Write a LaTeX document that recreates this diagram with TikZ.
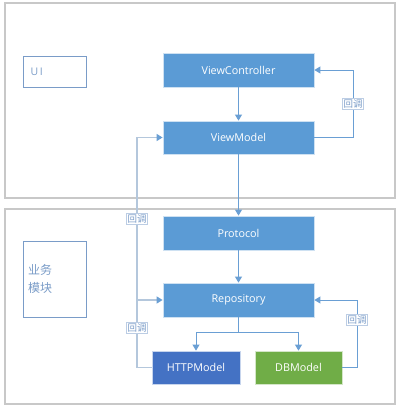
\documentclass[tikz,border=0pt]{standalone}
\usepackage{fontspec}
\setmainfont{Open Sans}
\newfontfamily\cjk{Noto Sans CJK SC}
\usetikzlibrary{arrows.meta}
\definecolor{boxblue}{HTML}{5B9BD5}
\definecolor{httpblue}{HTML}{4472C4}
\definecolor{dbgreen}{HTML}{70AD47}
\definecolor{frame}{HTML}{C8C8C8}
\definecolor{lineblue}{HTML}{6A9FD4}
\definecolor{paleline}{HTML}{B4C7DC}
\definecolor{labtext}{HTML}{7A9CC8}
\tikzset{
  mbox/.style={draw=white!70!boxblue, line width=0.8pt, fill=boxblue, text=white, font=\fontsize{10.8}{12}\selectfont, inner sep=0pt},
  outer/.style={draw=frame, line width=1.3pt},
  lab/.style={draw=labtext!50, line width=0.5pt, fill=white, text=labtext, font=\cjk\fontsize{9.5}{11}\selectfont, inner sep=1pt},
  con/.style={draw=lineblue, line width=1pt, -{Triangle[length=6pt,width=7pt]}},
  pconarr/.style={draw=paleline, line width=1.3pt, -{Triangle[length=6pt,width=7pt,fill=lineblue,color=lineblue]}},
  side/.style={draw=labtext, line width=1pt, text=labtext}
}
\begin{document}
\begin{tikzpicture}[x=1pt,y=-1pt]
\useasboundingbox (0,0) rectangle (402,413);
\fill[white] (0,0) rectangle (402,413);
% outer frames
\draw[outer] (5,3) rectangle (395,198);
\draw[outer] (5,209) rectangle (395,404);
% side labels
\node[side, draw, minimum width=63pt, minimum height=31pt, inner sep=0pt] (ui) at (54.5,71.5) {};
\node[text=labtext, font=\fontsize{10.5}{12}\selectfont, anchor=west] (uit) at (27,71.5) {U\,I};
\node[side, draw, minimum width=63pt, minimum height=76pt, inner sep=0pt] (biz) at (54.5,279) {};
\node[text=labtext, font=\cjk\fontsize{12}{18}\selectfont, anchor=west, align=left, inner sep=0pt] (bizt) at (28,279) {业务\\模块};
% main boxes
\node[mbox, minimum width=151pt, minimum height=34pt] (vc) at (238.5,70) {ViewController};
\node[mbox, minimum width=151pt, minimum height=33pt] (vm) at (238.5,137.5) {ViewModel};
\node[mbox, minimum width=151pt, minimum height=34pt] (pr) at (238.5,233) {Protocol};
\node[mbox, minimum width=151pt, minimum height=34pt] (re) at (238.5,300) {Repository};
\node[mbox, fill=httpblue, draw=white!70!httpblue, minimum width=88pt, minimum height=33pt] (ht) at (196,367.5) {HTTPModel};
\node[mbox, fill=dbgreen, draw=white!70!dbgreen, minimum width=87pt, minimum height=33pt] (db) at (298.5,367.5) {DBModel};
% coordinates
\coordinate (split) at (238.5,332);
\coordinate (sl) at (196,332);
\coordinate (sr) at (298.5,332);
\coordinate (r1a) at (353,137.5);
\coordinate (r1b) at (353,70);
\coordinate (r2a) at (357,367.5);
\coordinate (r2b) at (357,300);
\coordinate (l1) at (137,367.5);
\coordinate (l2) at (137,137.5);
\coordinate (l3) at (137,300);
% straight arrows
\draw[con] (vc) -- (vm);
\draw[con] (vm) -- (pr);
\draw[con] (pr) -- (re);
\draw[lineblue, line width=1pt] (re.south) -- (split);
\draw[con] (split) -- (sl) -- (ht.north);
\draw[con] (split) -- (sr) -- (db.north);
% right loops
\draw[con] (vm.east) -- (r1a) -- (r1b) -- (vc.east);
\draw[con] (db.east) -- (r2a) -- (r2b) -- (re.east);
% left loop
\draw[pconarr] (ht.west) -- (l1) -- (l2) -- (vm.west);
\draw[pconarr] (l3) -- (re.west);
% labels
\node[lab] (la1) at (353,104) {回调};
\node[lab] (la2) at (357,320) {回调};
\node[lab] (la3) at (137,219) {回调};
\node[lab] (la4) at (137,328) {回调};
\end{tikzpicture}
\end{document}
